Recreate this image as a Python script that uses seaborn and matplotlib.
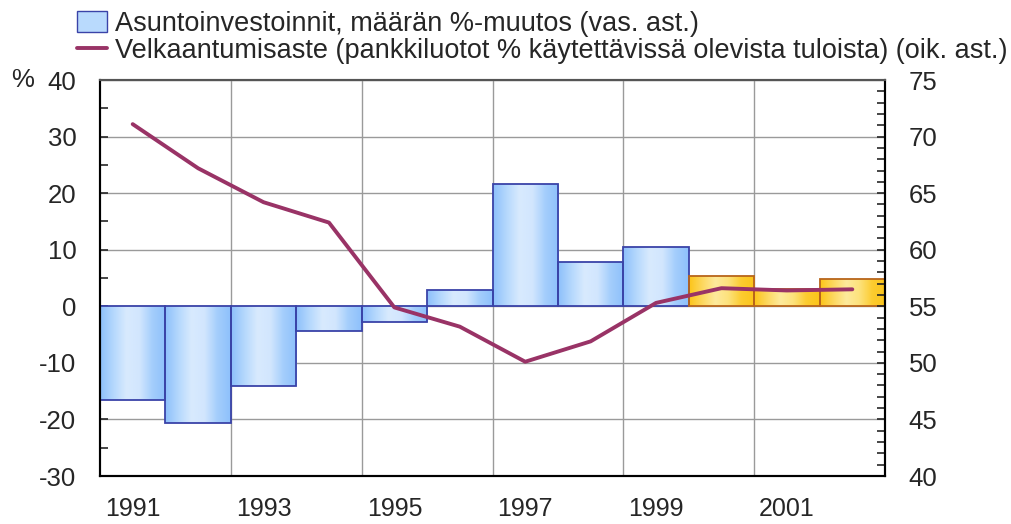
import numpy as np
import pandas as pd
import matplotlib
matplotlib.use("Agg")
import matplotlib.pyplot as plt
import seaborn as sns
from matplotlib.patches import Patch
from matplotlib.lines import Line2D
from matplotlib.colors import LinearSegmentedColormap

years = [1991, 1992, 1993, 1994, 1995, 1996, 1997, 1998, 1999, 2000, 2001, 2002]
investment_change = [-16.6, -20.7, -14.1, -4.4, -2.7, 2.8, 21.6, 7.8, 10.4, 5.3, 3.0, 4.9]
forecast = [False] * 9 + [True] * 3
debt_ratio = [71.1, 67.2, 64.2, 62.4, 54.9, 53.2, 50.1, 51.9, 55.3, 56.6, 56.4, 56.5]
tick_years = ["1991", "1993", "1995", "1997", "1999", "2001"]

label_bar = "Asuntoinvestoinnit, määrän %-muutos (vas. ast.)"
label_line = "Velkaantumisaste (pankkiluotot % käytettävissä olevista tuloista) (oik. ast.)"

sns.set_style("white")
plt.rcParams["font.family"] = ["Liberation Sans", "DejaVu Sans"]
plt.rcParams["axes.unicode_minus"] = False

FS = 18.5

fig = plt.figure(figsize=(10.11, 5.24), dpi=100)
ax = fig.add_axes([0.0989, 0.0916, 0.7765, 0.7557])

df = pd.DataFrame({"year": [str(y) for y in years], "val": investment_change,
                   "fc": ["f" if f else "a" for f in forecast]})
sns.barplot(data=df, x="year", y="val", hue="fc", palette={"a": "#a8d0fc", "f": "#fdd25a"},
            width=1.0, dodge=False, legend=False, ax=ax, zorder=2)

blue_cmap = LinearSegmentedColormap.from_list("b", ["#8ec0fb", "#b5d8fd", "#d8eafe", "#d2e6fe", "#a4cefc", "#8ec0fb"])
orange_cmap = LinearSegmentedColormap.from_list("o", ["#fcc51a", "#fdd860", "#feea9c", "#fde27c", "#fccc30", "#fcc51a"])
grad = np.linspace(0, 1, 64).reshape(1, -1)
bars = [p for p in ax.patches if p.get_height() != 0 or p.get_width() != 0]
for p in bars:
    x0, y0 = p.get_x(), p.get_y()
    w, h = p.get_width(), p.get_height()
    is_fc = forecast[int(round(x0 + w / 2))]
    cmap = orange_cmap if is_fc else blue_cmap
    p.set_edgecolor("#b8651a" if is_fc else "#3a43a8")
    p.set_linewidth(1.3)
    p.set_facecolor("none")
    p.set_zorder(3)
    im = ax.imshow(grad, cmap=cmap, aspect="auto", extent=[x0, x0 + w, min(y0, y0 + h), max(y0, y0 + h)],
                   zorder=2.5, interpolation="bicubic")
    im.set_clip_path(p)

ax.set_xlim(-0.5, len(years) - 0.5)
ax.set_ylim(-30, 40)
ax.set_yticks(np.arange(-30, 41, 10))
ax.set_yticks(np.arange(-30, 41, 5), minor=True)
ax.set_xticks(np.arange(0, len(years), 2))
ax.set_xticklabels(tick_years)
ax.set_xticks(np.arange(1.5, len(years) - 1, 2), minor=True)
ax.grid(True, which="major", axis="y", color="#9a9a9a", lw=1, zorder=0)
ax.grid(True, which="minor", axis="x", color="#9a9a9a", lw=1, zorder=0)
ax.set_axisbelow(True)
ax.set_xlabel("")
ax.set_ylabel("")
ax.tick_params(axis="x", which="both", length=0, pad=15, labelsize=18)
ax.tick_params(axis="y", which="both", direction="in", length=6, width=1.2, pad=17, labelsize=FS, left=True)
for s in ax.spines.values():
    s.set_color("black")
    s.set_linewidth(1.5)
ax.spines["top"].set_color("#555555")

ax2 = ax.twinx()
sns.lineplot(x=np.array(years) - years[0], y=debt_ratio, color="#993366", lw=2.8, ax=ax2, zorder=5)
ax2.set_ylim(40, 75)
ax2.set_yticks(np.arange(40, 76, 5))
ax2.set_yticks(np.arange(40, 76, 1), minor=True)
ax2.tick_params(axis="y", which="both", direction="in", length=6, width=1.2, pad=17, labelsize=FS, right=True)
ax2.grid(False)
for s in ax2.spines.values():
    s.set_color("black")
    s.set_linewidth(1.5)
ax2.spines["top"].set_color("#555555")

fig.text(0.011, 0.847, "%", fontsize=FS, va="center", ha="left")

handles = [Patch(facecolor="#b9dafd", edgecolor="#3a43a8", lw=1),
           Line2D([0], [0], color="#993366", lw=2.8)]
fig.legend(handles, [label_bar, label_line], loc="upper left", bbox_to_anchor=(0.060, 1.01),
           frameon=False, fontsize=19.5, handlelength=1.1, handleheight=0.8, handletextpad=0.3,
           labelspacing=0.05, borderaxespad=0.2)

fig.savefig("out.png", dpi=100)
